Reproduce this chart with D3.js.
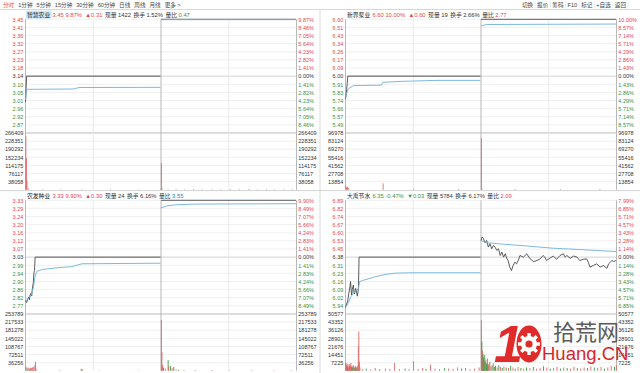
<!DOCTYPE html>
<html>
<head>
<meta charset="utf-8">
<script src="https://cdn.jsdelivr.net/npm/d3@7"></script>
<style>
  body { margin: 0; background: #fff; }
</style>
</head>
<body>
<div id="chart"></div>
<script>
// quote header of each panel
const names = ["智慧农业", "新界泵业", "农发种业", "大禹节水"];
const lastPrices = ["3.45", "6.60", "3.33", "6.35"];
const changePcts = ["9.87%", "10.00%", "9.90%", "-0.47%"];
const changeAmts = ["▲0.31", "▲0.60", "▲0.30", "▼0.03"];
const nowVols = ["1422", "19", "24", "5784"];
const turnovers = ["1.52%", "2.66%", "6.16%", "6.17%"];
const volRatios = ["0.47", "2.77", "3.55", "2.09"];

// scale of each panel
const prevCloses = [3.14, 6.0, 3.03, 6.38];
const rangePcts = [9.87, 10.0, 9.9, 7.99];
const volMaxes = [266409, 96978, 253789, 50577];

// tick labels
const priceLabels = [
  ["3.45", "3.41", "3.36", "3.32", "3.27", "3.23", "3.18", "3.14", "3.10", "3.05", "3.01", "2.96", "2.92", "2.87"],
  ["6.60", "6.51", "6.43", "6.34", "6.26", "6.17", "6.09", "6.00", "5.91", "5.83", "5.74", "5.66", "5.57", "5.49"],
  ["3.33", "3.29", "3.24", "3.20", "3.16", "3.12", "3.07", "3.03", "2.99", "2.94", "2.90", "2.86", "2.82", "2.77"],
  ["6.89", "6.82", "6.74", "6.67", "6.60", "6.53", "6.45", "6.38", "6.31", "6.23", "6.16", "6.09", "6.02", "5.94"]
];
const pctLabels = [
  ["9.87%", "8.46%", "7.05%", "5.64%", "4.23%", "2.82%", "1.41%", "0.00%", "1.41%", "2.82%", "4.23%", "5.64%", "7.05%", "8.46%"],
  ["10.00%", "8.57%", "7.14%", "5.71%", "4.29%", "2.86%", "1.43%", "0.00%", "1.43%", "2.86%", "4.29%", "5.71%", "7.14%", "8.57%"],
  ["9.90%", "8.49%", "7.07%", "5.66%", "4.24%", "2.83%", "1.41%", "0.00%", "1.41%", "2.83%", "4.24%", "5.66%", "7.07%", "8.49%"],
  ["7.99%", "6.85%", "5.71%", "4.57%", "3.43%", "2.28%", "1.14%", "0.00%", "1.14%", "2.28%", "3.43%", "4.57%", "5.71%", "6.85%"]
];
const volLabels = [
  ["266409", "228351", "190292", "152234", "114175", "76117", "38058"],
  ["96978", "83124", "69270", "55416", "41562", "27708", "13854"],
  ["253789", "217533", "181278", "145022", "108767", "72511", "36256"],
  ["50577", "43352", "36126", "28901", "21676", "14451", "7225"]
];

// [minute, price], two trading days = minutes 0..479
const price0 = [[0, 3.0], [1, 3.07], [2, 3.14], [239, 3.14], [240, 3.45], [479, 3.45]];
const avg0 = [[0, 3.01], [1, 3.05], [3, 3.068], [85, 3.07], [95, 3.078], [239, 3.079], [240, 3.448], [479, 3.448]];

const price1 = [[0, 5.76], [1, 5.8], [2, 5.86], [3, 5.92], [4, 6.0], [239, 6.0], [240, 6.6], [479, 6.6]];
const avg1 = [[0, 5.77], [2, 5.82], [5, 5.865], [14, 5.9], [64, 5.905], [66, 5.935], [100, 5.945], [160, 5.955], [239, 5.955],
  [240, 6.53], [250, 6.545], [479, 6.55]];

const price2 = [[0, 2.8], [2, 2.79], [4, 2.81], [6, 2.82], [7, 2.805], [8, 2.83], [10, 2.84], [11, 2.825], [12, 2.86], [14, 2.9],
  [15, 2.95], [16, 2.96], [17, 3.03], [239, 3.03], [240, 3.33], [479, 3.33]];
const avg2 = [[0, 2.8], [5, 2.81], [10, 2.83], [14, 2.87], [17, 2.93], [20, 2.955], [30, 2.965], [60, 2.975], [82, 2.98],
  [100, 2.995], [239, 2.998], [240, 3.29], [250, 3.3], [265, 3.306], [300, 3.31], [479, 3.312]];

const price3 = [[0, 5.93], [2, 5.96], [4, 5.99], [6, 6.06], [8, 6.12], [9, 6.16], [10, 6.08], [11, 6.04], [12, 6.09], [14, 6.13],
  [15, 6.06], [16, 6.05], [18, 6.1], [19, 6.08], [21, 6.03], [22, 6.06], [23, 6.12], [24, 6.38], [239, 6.38],
  [240, 6.53], [242, 6.56], [244, 6.55], [247, 6.51], [250, 6.53], [253, 6.47], [256, 6.5], [259, 6.455], [262, 6.485],
  [265, 6.47], [268, 6.44], [271, 6.455], [274, 6.395], [277, 6.425], [280, 6.38], [283, 6.41], [286, 6.365], [288, 6.35],
  [291, 6.29], [294, 6.26], [297, 6.306], [300, 6.335], [303, 6.32], [306, 6.35], [309, 6.395], [315, 6.38], [321, 6.41],
  [327, 6.365], [333, 6.34], [339, 6.35], [345, 6.365], [350, 6.395], [353, 6.38], [356, 6.35], [362, 6.37], [368, 6.39],
  [374, 6.36], [380, 6.395], [386, 6.41], [389, 6.38], [392, 6.395], [398, 6.37], [404, 6.39], [410, 6.38], [415, 6.35],
  [421, 6.36], [427, 6.365], [430, 6.335], [433, 6.29], [439, 6.305], [445, 6.32], [451, 6.29], [457, 6.305], [463, 6.28],
  [466, 6.32], [469, 6.335], [472, 6.35], [475, 6.34], [479, 6.35]];
const avg3 = [[0, 5.93], [5, 5.97], [10, 6.03], [15, 6.06], [20, 6.08], [23, 6.1], [25, 6.16], [30, 6.17], [50, 6.2],
  [70, 6.225], [90, 6.237], [120, 6.24], [239, 6.24],
  [240, 6.53], [245, 6.52], [250, 6.51], [270, 6.5], [309, 6.485], [368, 6.46], [427, 6.445], [479, 6.43]];

// [minute, volume, 1 up / -1 down]
const vol0 = [[0, 250000, 1], [1, 148000, 1], [2, 40000, 1], [5, 6000, 1], [30, 3000, 1], [62, 2500, 1], [100, 2000, 1],
  [150, 2500, 1], [200, 2000, 1], [239, 3000, 1], [240, 125000, 1], [241, 9000, 1], [252, 2500, 1], [266, 3000, 1],
  [281, 2000, 1], [297, 3500, 1], [312, 2500, 1], [330, 3000, 1], [345, 2000, 1], [362, 3000, 1], [378, 2500, 1],
  [395, 3500, 1], [410, 2500, 1], [426, 3000, 1], [441, 2000, 1], [457, 3000, 1], [472, 2500, 1]];
const vol1 = [[0, 7000, 1], [1, 4000, 1], [3, 5000, 1], [5, 3000, 1], [66, 11000, 1], [120, 1500, 1], [200, 1500, 1],
  [240, 88000, 1], [241, 2500, 1], [300, 1200, 1], [380, 1200, 1], [450, 1500, 1]];
const vol2 = [[0, 20000, 1], [2, 12000, -1], [4, 15000, 1], [6, 10000, -1], [8, 14000, 1], [10, 12000, 1], [12, 15000, 1],
  [14, 18000, 1], [16, 25000, 1], [17, 40000, 1], [18, 8000, 1], [60, 3000, 1], [98, 9000, -1], [100, 7000, 1],
  [130, 2000, 1], [200, 2000, 1], [240, 227000, 1], [241, 84000, 1], [242, 25000, 1], [244, 15000, -1], [247, 10000, 1],
  [252, 48000, -1], [253, 20000, 1], [256, 22000, -1], [259, 12000, 1], [262, 18000, -1], [266, 6000, 1], [270, 5000, -1],
  [280, 4000, 1], [300, 3000, -1], [330, 3500, 1], [360, 2500, 1], [400, 3000, 1], [440, 2500, 1], [470, 3000, 1]];
const vol3 = [[0, 7000, -1], [1, 5000, 1], [2, 6500, 1], [3, 4000, -1], [4, 5500, 1], [5, 3000, 1], [6, 6000, 1], [7, 4000, -1],
  [8, 5000, 1], [9, 7000, 1], [10, 3500, -1], [11, 4000, 1], [12, 3000, -1], [13, 5000, 1], [14, 4500, 1], [15, 2500, -1],
  [16, 3000, 1], [17, 4000, -1], [18, 3500, 1], [19, 2000, 1], [20, 3000, -1], [21, 4500, 1], [22, 22000, 1], [23, 35000, 1],
  [24, 8000, 1], [25, 3000, 1], [30, 1500, 1], [36, 2000, -1], [44, 1200, 1], [52, 2500, 1], [60, 1500, -1], [70, 2000, 1],
  [78, 1800, 1], [86, 7000, 1], [95, 1500, 1], [105, 2000, -1], [112, 1500, 1], [120, 8500, 1], [128, 1500, 1],
  [136, 2500, 1], [142, 1800, -1], [150, 5500, 1], [158, 2000, 1], [166, 1500, 1], [175, 2500, -1], [182, 2000, 1],
  [190, 1800, 1], [198, 3000, 1], [205, 2000, -1], [212, 2500, 1], [220, 1500, 1], [228, 2000, 1], [236, 3000, 1],
  [240, 45000, 1], [241, 26000, -1], [242, 18000, 1], [243, 15000, -1], [244, 12000, -1], [245, 9000, 1], [246, 14000, -1],
  [247, 8000, -1], [248, 10000, 1], [249, 6000, -1], [250, 7000, -1], [251, 11000, 1], [252, 5000, -1], [253, 6000, 1],
  [255, 8000, -1], [257, 4000, 1], [259, 5000, -1], [261, 7000, 1], [263, 3500, -1], [265, 4500, -1], [268, 3000, 1],
  [271, 5000, -1], [274, 3500, 1], [277, 2500, -1], [280, 4000, 1], [284, 3000, -1], [288, 2500, 1], [292, 4500, -1],
  [296, 3000, 1], [300, 2000, -1], [305, 3500, 1], [310, 2500, -1], [315, 2000, 1], [320, 3000, -1], [326, 2500, 1],
  [332, 3500, -1], [338, 2000, 1], [344, 2500, 1], [350, 4000, -1], [356, 3000, 1], [362, 2000, -1], [368, 2500, 1],
  [374, 3500, 1], [380, 2000, -1], [386, 3000, 1], [392, 2500, -1], [398, 2000, 1], [404, 3500, 1], [410, 2500, -1],
  [416, 2000, 1], [422, 3000, 1], [428, 2500, -1], [434, 4000, 1], [440, 3000, -1], [446, 2500, 1], [452, 3500, 1],
  [458, 2000, -1], [464, 3000, 1], [470, 4500, 1], [476, 3500, -1], [479, 5000, 1]];

const priceLines = [price0, price1, price2, price3];
const avgLines = [avg0, avg1, avg2, avg3];
const volBars = [vol0, vol1, vol2, vol3];

// toolbar
const leftTabs = ["分时", "1分钟", "5分钟", "15分钟", "30分钟", "60分钟", "日线", "周线", "月线", "更多 >"];
const rightTabs = ["切换", "报价", "筹码", "F10", "标记", "+自选", "返回"];

const FONT = 'Arial, "Liberation Sans", "Noto Sans CJK SC", sans-serif';
const RED = "#e2474f", GREEN = "#3c8f3c", DARK = "#333";
const ratioColors = [GREEN, RED, "#2b7fc4", RED];

let svg = d3.select("#chart").append("svg")
  .attr("width", 640).attr("height", 373)
  .style("font-family", FONT);

// toolbar row
let tb = svg.append("g").attr("font-size", 5.6);
let tx = 3;
leftTabs.forEach((t, i) => {
  let el = tb.append("text").attr("x", tx).attr("y", 7.2)
    .attr("fill", i === 0 ? RED : "#444").text(t);
  tx += el.node().getComputedTextLength() + 4;
});
// right side buttons, laid out then shifted so they end near the right edge
let rg = tb.append("g");
tx = 0;
rightTabs.forEach((t) => {
  let el = rg.append("text").attr("x", tx).attr("y", 7.2).attr("fill", "#444").text(t);
  let w = el.node().getComputedTextLength();
  rg.append("line").attr("x1", tx + w + 2).attr("x2", tx + w + 2).attr("y1", 1.5).attr("y2", 8.5)
    .attr("stroke", "#e2e2e2").attr("stroke-width", 0.6);
  tx += w + 4;
});
rg.attr("transform", `translate(${630 - tx},0)`);
svg.append("line").attr("x1", 0).attr("x2", 640).attr("y1", 9.5).attr("y2", 9.5).attr("stroke", "#d8d8d8");

// panels
d3.range(4).forEach((p) => {
  const ox = (p % 2) * 320, oy = p < 2 ? 10 : 191;
  const top = oy + 9.3, row = 8.12;
  const midY = top + 14 * row, bot = top + 21 * row;
  const pc = prevCloses[p], r = rangePcts[p] / 100;

  const x = d3.scaleLinear().domain([0, 480]).range([ox + 25.5, ox + 296.5]);
  const yP = d3.scaleLinear().domain([pc * (1 - r), pc * (1 + r)]).range([midY, top]);
  const yV = d3.scaleLinear().domain([0, volMaxes[p]]).range([bot, midY]);

  const pTicks = d3.range(15).map((i) => pc * (1 + r) - (i * pc * r) / 7);
  const vTicks = d3.range(8).map((k) => (volMaxes[p] * (7 - k)) / 7);

  let g = svg.append("g");

  // horizontal grid
  g.selectAll("line.hp").data(pTicks).join("line")
    .attr("x1", x(0)).attr("x2", x(480))
    .attr("y1", (d) => yP(d)).attr("y2", (d) => yP(d))
    .attr("stroke", (d, i) => (i === 14 ? "#a8a8a8" : i === 7 ? "#c6c6c6" : "#ececec"))
    .attr("stroke-width", 0.8);
  g.selectAll("line.hv").data(vTicks.slice(1, 7)).join("line")
    .attr("x1", x(0)).attr("x2", x(480))
    .attr("y1", (d) => yV(d)).attr("y2", (d) => yV(d))
    .attr("stroke", "#ececec").attr("stroke-width", 0.8);

  // vertical grid
  g.selectAll("line.vg").data([120, 360, 0, 240, 480]).join("line")
    .attr("x1", (d) => x(d)).attr("x2", (d) => x(d))
    .attr("y1", top).attr("y2", bot)
    .attr("stroke", (d) => (d === 120 || d === 360 ? "#e6e6e6" : "#a6a6a6"))
    .attr("stroke-width", 0.8);

  // volume bars
  g.selectAll("rect.vol").data(volBars[p]).join("rect")
    .attr("x", (d) => x(d[0]) - 0.1).attr("width", 0.9)
    .attr("y", (d) => yV(d[1])).attr("height", (d) => bot - yV(d[1]))
    .attr("fill", (d) => (d[2] > 0 ? "#e06a6a" : "#3f9a46"));

  // price and average lines, one path per day
  const line = d3.line().x((d) => x(d[0])).y((d) => yP(d[1]));
  const byDay = (arr) => [arr.filter((d) => d[0] < 240), arr.filter((d) => d[0] >= 240)];
  g.selectAll("path.price").data(byDay(priceLines[p])).join("path")
    .attr("d", line).attr("fill", "none").attr("stroke", "#4a4a4a").attr("stroke-width", 0.9);
  g.selectAll("path.avg").data(byDay(avgLines[p])).join("path")
    .attr("d", line).attr("fill", "none").attr("stroke", "#6eb1da").attr("stroke-width", 0.9);

  // axes
  const tickColor = (d, i) => (i < 7 ? RED : i === 7 ? DARK : GREEN);
  const styleAxis = (ax) => {
    ax.select(".domain").remove();
    ax.attr("font-size", 5.5).attr("font-family", FONT);
  };
  let axL = g.append("g").attr("transform", `translate(${x(0)},0)`)
    .call(d3.axisLeft(yP).tickValues(pTicks.slice(0, 14)).tickFormat((d, i) => priceLabels[p][i]).tickSize(0).tickPadding(2.2));
  styleAxis(axL);
  axL.selectAll("text").attr("fill", tickColor);

  let axR = g.append("g").attr("transform", `translate(${x(480)},0)`)
    .call(d3.axisRight(yP).tickValues(pTicks.slice(0, 14)).tickFormat((d, i) => pctLabels[p][i]).tickSize(0).tickPadding(1.8));
  styleAxis(axR);
  axR.selectAll("text").attr("fill", tickColor);

  let avL = g.append("g").attr("transform", `translate(${x(0)},0)`)
    .call(d3.axisLeft(yV).tickValues(vTicks.slice(0, 7)).tickFormat((d, i) => volLabels[p][i]).tickSize(0).tickPadding(2.2));
  styleAxis(avL);
  avL.selectAll("text").attr("fill", DARK);

  let avR = g.append("g").attr("transform", `translate(${x(480)},0)`)
    .call(d3.axisRight(yV).tickValues(vTicks.slice(0, 7)).tickFormat((d, i) => volLabels[p][i]).tickSize(0).tickPadding(1.8));
  styleAxis(avR);
  avR.selectAll("text").attr("fill", DARK);

  // header
  const hy = oy + 7;
  let box = g.append("rect").attr("x", ox + 25.8).attr("y", oy + 0.6).attr("height", 8.2)
    .attr("fill", p === 0 ? "#cfe6f3" : "none");
  let nm = g.append("text").attr("x", ox + 27).attr("y", hy).attr("font-size", 5.8).attr("fill", "#222").text(names[p]);
  box.attr("width", nm.node().getComputedTextLength() + 2.6);

  const up = !changePcts[p].startsWith("-");
  let t = g.append("text").attr("x", ox + 52.5).attr("y", hy).attr("font-size", 5.8).attr("fill", DARK);
  t.append("tspan").attr("fill", up ? RED : GREEN).text(lastPrices[p] + " " + changePcts[p]);
  t.append("tspan").attr("dx", 3.5).attr("fill", up ? RED : GREEN).text(changeAmts[p]);
  t.append("tspan").attr("dx", 2.5).text("现量");
  t.append("tspan").attr("dx", 1.5).text(nowVols[p]);
  t.append("tspan").attr("dx", 2.5).text("换手");
  t.append("tspan").attr("dx", 1.5).text(turnovers[p]);
  t.append("tspan").attr("dx", 2.5).text("量比");
  t.append("tspan").attr("dx", 1.5).attr("fill", ratioColors[p]).text(volRatios[p]);
});

// panel separators
svg.append("line").attr("x1", 0).attr("x2", 640).attr("y1", 190.6).attr("y2", 190.6).attr("stroke", "#c8c8c8").attr("stroke-width", 0.8);
svg.append("line").attr("x1", 320).attr("x2", 320).attr("y1", 9.5).attr("y2", 373).attr("stroke", "#d0d0d0").attr("stroke-width", 0.8);

// watermark logo
let wm = svg.append("g");
wm.append("text").attr("x", 494).attr("y", 362).attr("font-size", 52).attr("font-weight", "bold")
  .attr("font-style", "italic").attr("font-family", '"Liberation Sans", Arial, sans-serif').attr("fill", "#e12a2a").text("1");
wm.append("ellipse").attr("cx", 529).attr("cy", 344).attr("rx", 12.5).attr("ry", 18.5).attr("fill", "#e12a2a");
wm.append("circle").attr("cx", 529).attr("cy", 344).attr("r", 8).attr("fill", "#fff");
d3.range(8).forEach((k) => {
  wm.append("rect").attr("x", 527.3).attr("y", 333).attr("width", 3.4).attr("height", 4)
    .attr("fill", "#fff").attr("transform", `rotate(${k * 45},529,344)`);
});
wm.append("circle").attr("cx", 529).attr("cy", 344).attr("r", 3.6).attr("fill", "#e12a2a");
wm.append("text").attr("x", 553).attr("y", 340).attr("font-size", 22).attr("fill", "#5a5a5a")
  .attr("font-family", '"Noto Sans CJK SC", sans-serif').text("拾荒网");
wm.append("text").attr("x", 542).attr("y", 359.5).attr("font-size", 18.5).attr("fill", "#d9262b")
  .attr("font-family", '"Liberation Sans", Arial, sans-serif').text("Huang.CN");
</script>
</body>
</html>
